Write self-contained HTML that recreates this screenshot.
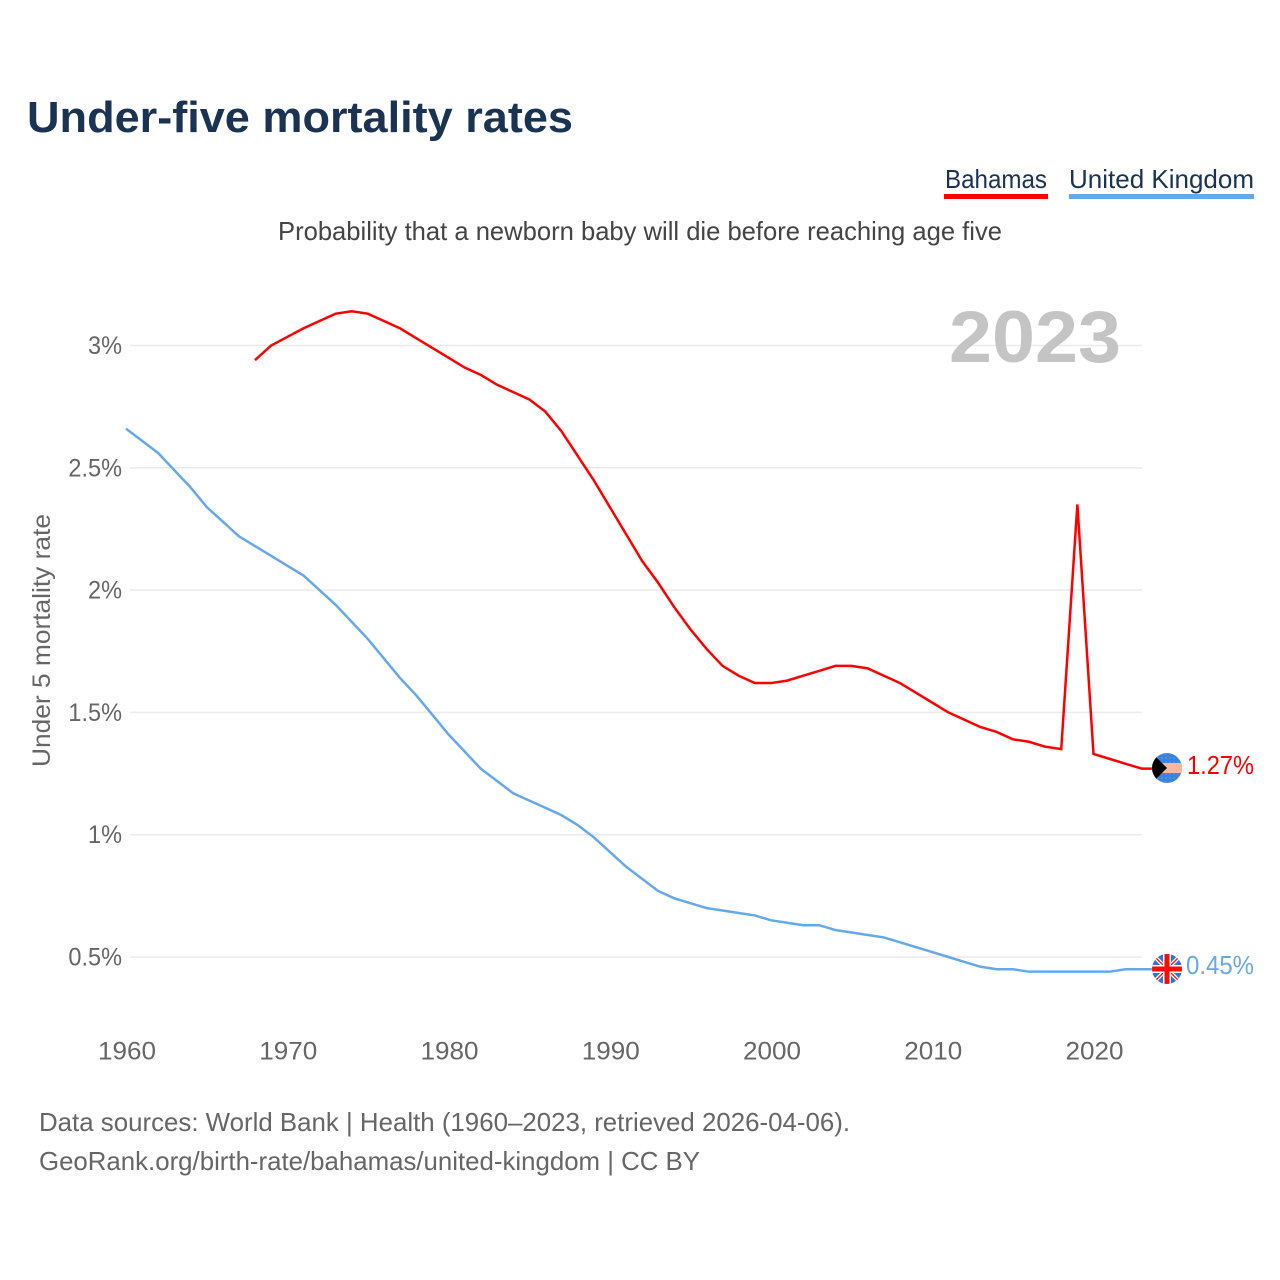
<!DOCTYPE html>
<html lang="en">
<head>
<meta charset="utf-8">
<title>Under-five mortality rates</title>
<style>
html,body{margin:0;padding:0;background:#fff;}
svg{display:block;font-family:"Liberation Sans",sans-serif;}
</style>
</head>
<body>
<svg id="chart" xmlns="http://www.w3.org/2000/svg" width="1280" height="1280" viewBox="0 0 1280 1280">
  <defs>
    <clipPath id="clip-bs"><circle cx="1167" cy="768" r="15"/></clipPath>
    <clipPath id="clip-uk"><circle cx="1167" cy="969" r="15"/></clipPath>
    <pattern id="stars" width="4" height="4" patternUnits="userSpaceOnUse"><rect width="4" height="4" fill="#3b82dc"/><circle cx="2" cy="2" r="0.6" fill="#7fadea"/></pattern>
  </defs>
  <text x="27" y="132" font-size="44" font-weight="700" fill="#1a3353" textLength="546" lengthAdjust="spacingAndGlyphs">Under-five mortality rates</text>

  <g>
    <text x="945" y="188" font-size="26" fill="#1a3353" textLength="102" lengthAdjust="spacingAndGlyphs">Bahamas</text>
    <rect x="944" y="194" width="104" height="5" fill="#ff0000"/>
  </g>
  <g>
    <text x="1069" y="188" font-size="26" fill="#1a3353" textLength="185" lengthAdjust="spacingAndGlyphs">United Kingdom</text>
    <rect x="1069" y="194" width="185" height="5" fill="#65a9ec"/>
  </g>

  <text x="278" y="240" font-size="26" fill="#444444" textLength="724" lengthAdjust="spacingAndGlyphs">Probability that a newborn baby will die before reaching age five</text>

  <g id="grid"></g>
  <g id="y-ticks"></g>
  <g id="x-ticks"></g>

  <text x="949" y="362" font-size="73" font-weight="700" fill="#c4c4c4" textLength="172" lengthAdjust="spacingAndGlyphs">2023</text>

  <text transform="translate(50,767) rotate(-90)" font-size="25" fill="#666666" textLength="253" lengthAdjust="spacingAndGlyphs">Under 5 mortality rate</text>

  <g id="series"></g>

  <g clip-path="url(#clip-bs)">
    <rect x="1152" y="753" width="30" height="30" fill="url(#stars)"/>
    <rect x="1152" y="763" width="30" height="10" fill="#ffb6a0"/>
    <polygon points="1149,750 1167,768 1149,786" fill="#000000"/>
  </g>
  <text x="1187" y="774" font-size="26" fill="#ff0000" textLength="67" lengthAdjust="spacingAndGlyphs">1.27%</text>

  <g clip-path="url(#clip-uk)">
    <rect x="1152" y="954" width="30" height="30" fill="#2f74d6"/>
    <path d="M1152 954L1182 984M1182 954L1152 984" stroke="#ffffff" stroke-width="4"/>
    <path d="M1152 954L1182 984M1182 954L1152 984" stroke="#ff1a1a" stroke-width="1.4"/>
    <rect x="1163" y="954" width="8" height="30" fill="#ffffff"/>
    <rect x="1152" y="965" width="30" height="8" fill="#ffffff"/>
    <rect x="1164.5" y="954" width="5" height="30" fill="#ff0a0a"/>
    <rect x="1152" y="966.5" width="30" height="5" fill="#ff0a0a"/>
  </g>
  <text x="1186" y="974" font-size="26" fill="#65a9ec" textLength="68" lengthAdjust="spacingAndGlyphs">0.45%</text>

  <text x="39" y="1131" font-size="26" fill="#666666" textLength="811" lengthAdjust="spacingAndGlyphs">Data sources: World Bank | Health (1960–2023, retrieved 2026-04-06).</text>
  <text x="39" y="1170" font-size="26" fill="#666666" textLength="661" lengthAdjust="spacingAndGlyphs">GeoRank.org/birth-rate/bahamas/united-kingdom | CC BY</text>
</svg>
<script>
const bahamasStartYear = 1968;
const bahamasValues = [2.94,3.00,3.035,3.07,3.10,3.13,3.14,3.13,3.10,3.07,3.03,2.99,2.95,2.91,2.88,2.84,2.81,2.78,2.73,2.65,2.55,2.45,2.34,2.23,2.12,2.03,1.93,1.84,1.76,1.69,1.65,1.62,1.62,1.63,1.65,1.67,1.69,1.69,1.68,1.65,1.62,1.58,1.54,1.50,1.47,1.44,1.42,1.39,1.38,1.36,1.35,2.35,1.33,1.31,1.29,1.27];
const ukStartYear = 1960;
const ukValues = [2.66,2.61,2.56,2.49,2.42,2.34,2.28,2.22,2.18,2.14,2.10,2.06,2.00,1.94,1.87,1.80,1.72,1.64,1.57,1.49,1.41,1.34,1.27,1.22,1.17,1.14,1.11,1.08,1.04,0.99,0.93,0.87,0.82,0.77,0.74,0.72,0.70,0.69,0.68,0.67,0.65,0.64,0.63,0.63,0.61,0.60,0.59,0.58,0.56,0.54,0.52,0.50,0.48,0.46,0.45,0.45,0.44,0.44,0.44,0.44,0.44,0.44,0.45,0.45];
const yTickValues = [0.5,1,1.5,2,2.5,3];
const yTickLabels = ["0.5%","1%","1.5%","2%","2.5%","3%"];
const xTickValues = [1960,1970,1980,1990,2000,2010,2020];

const NS = "http://www.w3.org/2000/svg";
function xScale(year){ return 126 + (year - 1960) * 16.125; }
function yScale(v){ return 957 - (v - 0.5) * 244.6; }

const grid = document.getElementById("grid");
const yTicks = document.getElementById("y-ticks");
const xTicks = document.getElementById("x-ticks");
const series = document.getElementById("series");

yTickValues.forEach(function(v, i){
  const line = document.createElementNS(NS, "line");
  
  
  line.setAttribute("x1", 130);
  line.setAttribute("x2", 1142);
  line.setAttribute("y1", yScale(v));
  line.setAttribute("y2", yScale(v));
  line.setAttribute("stroke", "#ebebeb");
  line.setAttribute("stroke-width", 1.5);
  grid.appendChild(line);

  const label = document.createElementNS(NS, "text");
  
  
  label.setAttribute("x", 122);
  label.setAttribute("y", yScale(v) + 8.5);
  label.setAttribute("text-anchor", "end");
  label.setAttribute("font-size", 25);
  label.setAttribute("fill", "#666666");
  label.textContent = yTickLabels[i];
  yTicks.appendChild(label);
  label.setAttribute("lengthAdjust", "spacingAndGlyphs");
  label.setAttribute("textLength", (label.getComputedTextLength() * 0.94).toFixed(1));
});

xTickValues.forEach(function(year){
  const label = document.createElementNS(NS, "text");
  
  
  label.setAttribute("x", xScale(year) + 1);
  label.setAttribute("y", 1059.5);
  label.setAttribute("text-anchor", "middle");
  label.setAttribute("font-size", 25);
  label.setAttribute("fill", "#666666");
  label.textContent = String(year);
  xTicks.appendChild(label);
  label.setAttribute("lengthAdjust", "spacingAndGlyphs");
  label.setAttribute("textLength", "58");
});

function linePoints(startYear, values){
  const pts = values.map(function(v, i){
    return xScale(startYear + i).toFixed(2) + "," + yScale(v).toFixed(2);
  });
  const lastYear = startYear + values.length - 1;
  pts.push((xScale(lastYear) + 10).toFixed(2) + "," + yScale(values[values.length - 1]).toFixed(2));
  return pts.join(" ");
}

const ukLine = document.createElementNS(NS, "polyline");


ukLine.setAttribute("points", linePoints(ukStartYear, ukValues));
ukLine.setAttribute("fill", "none");
ukLine.setAttribute("stroke", "#65a9ec");
ukLine.setAttribute("stroke-width", 2.5);
series.appendChild(ukLine);

const bsLine = document.createElementNS(NS, "polyline");


bsLine.setAttribute("points", linePoints(bahamasStartYear, bahamasValues));
bsLine.setAttribute("fill", "none");
bsLine.setAttribute("stroke", "#ff0000");
bsLine.setAttribute("stroke-width", 2.5);
series.appendChild(bsLine);
</script>
</body>
</html>
